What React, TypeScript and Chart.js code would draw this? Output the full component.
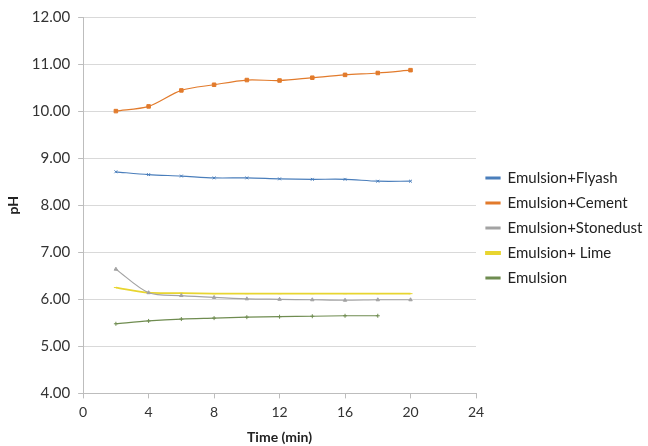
import React, { useEffect, useRef } from "react";
import { Chart, registerables } from "chart.js";

Chart.register(...registerables);

const times = [2, 4, 6, 8, 10, 12, 14, 16, 18, 20];
const flyash = [8.71, 8.65, 8.62, 8.58, 8.58, 8.56, 8.55, 8.55, 8.51, 8.51];
const cement = [10.0, 10.1, 10.44, 10.56, 10.66, 10.65, 10.71, 10.77, 10.81, 10.87];
const stonedust = [6.64, 6.14, 6.08, 6.04, 6.01, 6.0, 5.99, 5.98, 5.99, 5.99];
const lime = [6.25, 6.14, 6.13, 6.12, 6.12, 6.12, 6.12, 6.12, 6.12, 6.12];
const emulsion = [5.48, 5.54, 5.58, 5.6, 5.62, 5.63, 5.64, 5.65, 5.65];

const seriesNames = [
  "Emulsion+Flyash",
  "Emulsion+Cement",
  "Emulsion+Stonedust",
  "Emulsion+ Lime",
  "Emulsion",
];
const seriesColors = ["#4A7EBB", "#E27B2C", "#A3A3A3", "#E8D530", "#6F8C50"];
const seriesValues = [flyash, cement, stonedust, lime, emulsion];
const seriesPoints: any[] = ["crossRot", "rect", "triangle", "line", "cross"];
const seriesPointRadius = [2, 2.5, 2, 2, 2];

const xTicks = [0, 4, 8, 12, 16, 20, 24];
const yMin = 4;
const yMax = 12;

const FONT = "Lato, 'Open Sans', sans-serif";

export default function App() {
  const ref = useRef<HTMLCanvasElement | null>(null);

  useEffect(() => {
    document.body.style.margin = "0";
    const ctx = ref.current!.getContext("2d")!;
    const datasets = seriesNames.map((name, i) => ({
      label: name,
      data: seriesValues[i].map((v, j) => ({ x: times[j], y: v })),
      borderColor: seriesColors[i],
      backgroundColor: seriesColors[i],
      borderWidth: i === 3 ? 1.8 : 1.2,
      pointStyle: seriesPoints[i],
      pointRadius: seriesPointRadius[i],
      pointBorderWidth: 1,
      tension: 0.3,
      fill: false,
    }));
    const chart = new Chart(ctx, {
      type: "line",
      data: { datasets },
      options: {
        animation: false,
        responsive: false,
        maintainAspectRatio: false,
        layout: { padding: { top: 10, right: 4, left: 5, bottom: 0 } },
        plugins: {
          tooltip: { enabled: false },
          legend: {
            position: "right",
            align: "center",
            maxWidth: 168,
            labels: {
              font: { family: FONT, size: 15 },
              color: "#222",
              boxWidth: 14,
              boxHeight: 2,
              padding: 10,
              usePointStyle: false,
            },
          },
        },
        scales: {
          x: {
            type: "linear",
            min: 0,
            max: 24,
            afterBuildTicks: (axis: any) => {
              axis.ticks = xTicks.map((v) => ({ value: v }));
            },
            grid: {
              display: true,
              drawOnChartArea: false,
              drawTicks: true,
              tickLength: 5,
              color: "#BDBDBD",
            },
            border: { color: "#BDBDBD" },
            ticks: {
              font: { family: FONT, size: 14 },
              color: "#333",
              padding: 6,
            },
            title: {
              display: true,
              text: "Time (min)",
              font: { family: FONT, size: 14, weight: "bold" },
              color: "#222",
              padding: { top: 2, bottom: 0 },
            },
          },
          y: {
            min: yMin,
            max: yMax,
            ticks: {
              stepSize: 1,
              font: { family: FONT, size: 15 },
              color: "#333",
              padding: 8,
              callback: (v: any) => Number(v).toFixed(2),
            },
            grid: {
              color: "#D9D9D9",
              tickLength: 5,
              tickColor: "#BDBDBD",
            },
            border: { color: "#BDBDBD" },
            title: {
              display: true,
              text: "pH",
              font: { family: FONT, size: 14, weight: "bold" },
              color: "#222",
              padding: { top: 0, bottom: 2 },
            },
          },
        },
      },
    });
    return () => chart.destroy();
  }, []);

  return (
    <div style={{ position: "absolute", left: 0, top: 0, width: 648, height: 446, background: "#fff" }}>
      <canvas ref={ref} width={648} height={446} />
    </div>
  );
}
